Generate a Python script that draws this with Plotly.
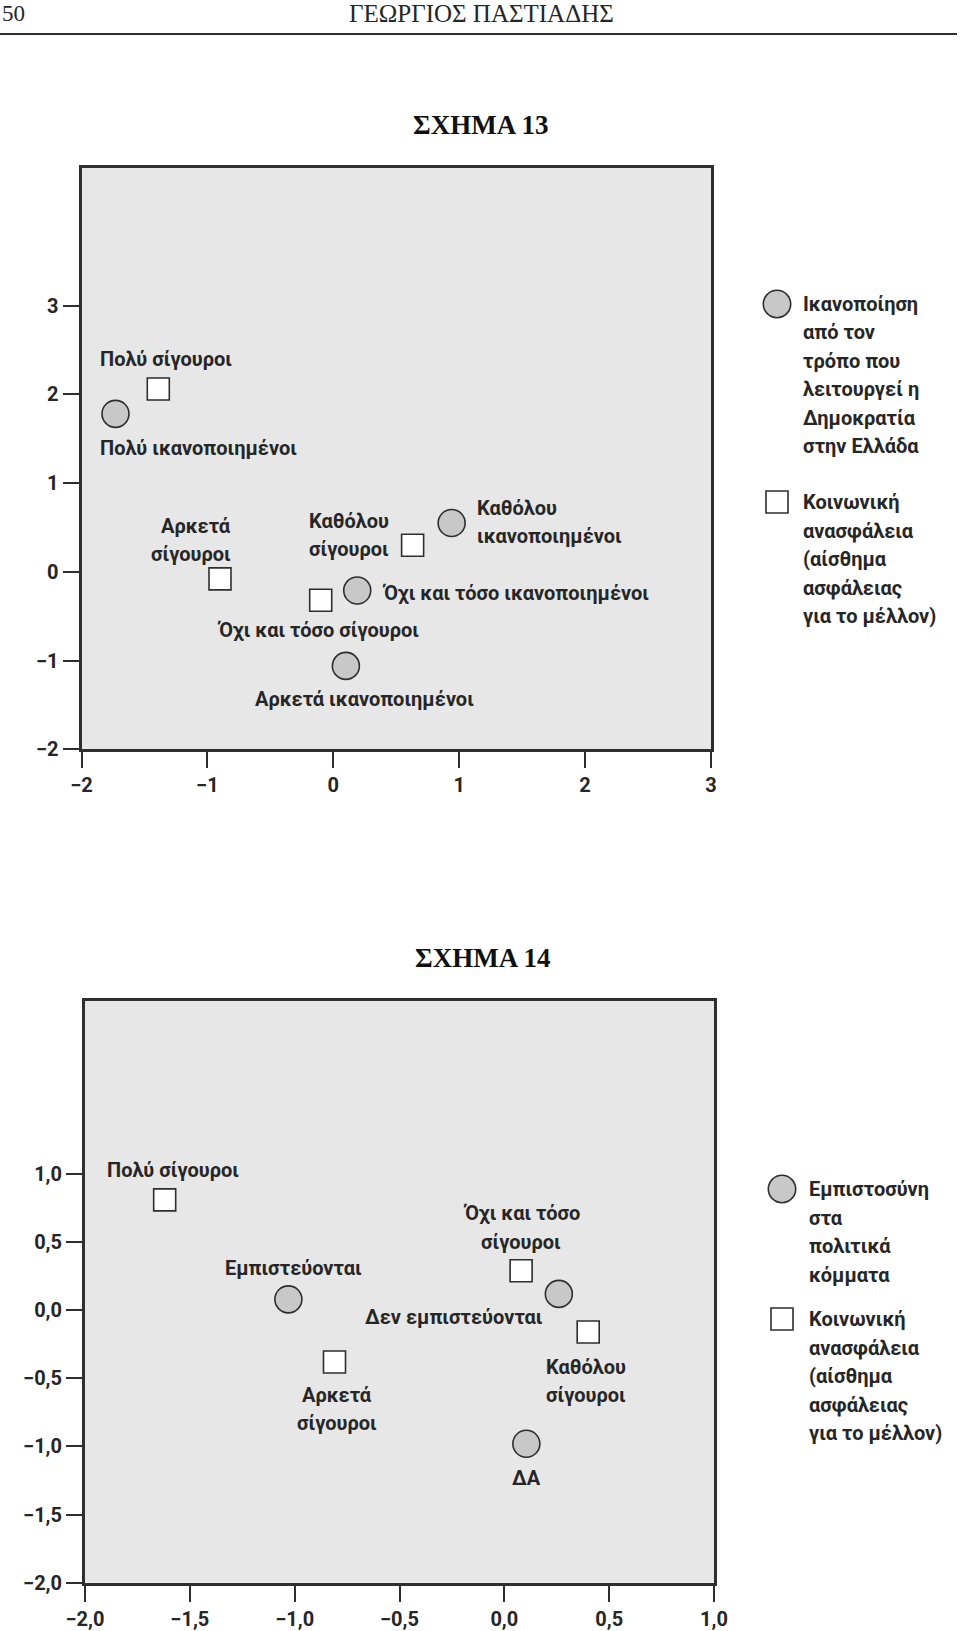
import plotly.graph_objects as go

# ΣΧΗΜΑ 13 - ικανοποίηση από τη Δημοκρατία (κύκλοι) και κοινωνική ανασφάλεια (τετράγωνα)
sat13_labels = ["Πολύ ικανοποιημένοι", "Καθόλου<br>ικανοποιημένοι",
                "Όχι και τόσο ικανοποιημένοι", "Αρκετά ικανοποιημένοι"]
sat13_x = [-1.73, 0.94, 0.19, 0.10]
sat13_y = [1.78, 0.55, -0.21, -1.06]

sec13_labels = ["Πολύ σίγουροι", "Αρκετά<br>σίγουροι",
                "Όχι και τόσο σίγουροι", "Καθόλου<br>σίγουροι"]
sec13_x = [-1.39, -0.90, -0.10, 0.63]
sec13_y = [2.06, -0.08, -0.32, 0.30]

# ΣΧΗΜΑ 14 - εμπιστοσύνη στα κόμματα (κύκλοι) και κοινωνική ανασφάλεια (τετράγωνα)
trust14_labels = ["Εμπιστεύονται", "Δεν εμπιστεύονται", "ΔΑ"]
trust14_x = [-1.03, 0.26, 0.105]
trust14_y = [0.08, 0.12, -0.98]

sec14_labels = ["Πολύ σίγουροι", "Αρκετά<br>σίγουροι",
                "Όχι και τόσο<br>σίγουροι", "Καθόλου<br>σίγουροι"]
sec14_x = [-1.62, -0.81, 0.08, 0.40]
sec14_y = [0.81, -0.38, 0.29, -0.16]

# άξονες
ticks13 = [-2, -1, 0, 1, 2, 3]
ticktext13 = ["\u22122", "\u22121", "0", "1", "2", "3"]
ticks14_x = [-2.0, -1.5, -1.0, -0.5, 0.0, 0.5, 1.0]
ticktext14_x = ["\u22122,0", "\u22121,5", "\u22121,0", "\u22120,5", "0,0", "0,5", "1,0"]
ticks14_y = [-2.0, -1.5, -1.0, -0.5, 0.0, 0.5, 1.0]
ticktext14_y = ["\u22122,0", "\u22121,5", "\u22121,0", "\u22120,5", "0,0", "0,5", "1,0"]

legend13 = ["Ικανοποίηση<br>από τον<br>τρόπο που<br>λειτουργεί η<br>Δημοκρατία<br>στην Ελλάδα",
            "Κοινωνική<br>ανασφάλεια<br>(αίσθημα<br>ασφάλειας<br>για το μέλλον)"]
legend14 = ["Εμπιστοσύνη<br>στα<br>πολιτικά<br>κόμματα",
            "Κοινωνική<br>ανασφάλεια<br>(αίσθημα<br>ασφάλειας<br>για το μέλλον)"]

W, H = 960, 1631
FONT = "Roboto, Liberation Sans, sans-serif"
SERIF = "Liberation Serif, Times New Roman, serif"
TXT = "#262626"
LINE = "#2e2e2e"
BG = "#e7e7e7"
GREY = "#c8c8c8"
LBL = dict(family=FONT, size=20, color=TXT, weight="bold")
PITCH = 28.5  # απόσταση γραμμών κειμένου


def px(x):
    return x / W


def py(y):
    return 1 - y / H


# θέση ετικέτας σε σχέση με το σημείο: (xshift, yshift, xanchor)
off13 = {
    "Πολύ ικανοποιημένοι": (-17, -34, "left"),
    "Καθόλου<br>ικανοποιημένοι": (23, 1, "left"),
    "Όχι και τόσο ικανοποιημένοι": (23, -3, "left"),
    "Αρκετά ικανοποιημένοι": (19, -33, "center"),
    "Πολύ σίγουροι": (-60, 30, "left"),
    "Αρκετά<br>σίγουροι": (13, 39, "right"),
    "Όχι και τόσο σίγουροι": (-3, -30, "center"),
    "Καθόλου<br>σίγουροι": (-22, 10, "right"),
}
off14 = {
    "Εμπιστεύονται": (5, 31, "center"),
    "Δεν εμπιστεύονται": (-14, -23, "right"),
    "ΔΑ": (0, -34, "center"),
    "Πολύ σίγουροι": (-60, 30, "left"),
    "Αρκετά<br>σίγουροι": (2, -47, "center"),
    "Όχι και τόσο<br>σίγουροι": (0, 43, "center"),
    "Καθόλου<br>σίγουροι": (-2, -49, "center"),
}

circle_marker = dict(symbol="circle", size=27, color=GREY, line=dict(color=LINE, width=1.6))
square_marker = dict(symbol="square", size=22, color="white", line=dict(color=LINE, width=1.6))

fig = go.Figure()
fig.add_trace(go.Scatter(x=sat13_x, y=sat13_y, mode="markers", marker=circle_marker,
                         xaxis="x", yaxis="y", showlegend=False, hoverinfo="skip"))
fig.add_trace(go.Scatter(x=sec13_x, y=sec13_y, mode="markers", marker=square_marker,
                         xaxis="x", yaxis="y", showlegend=False, hoverinfo="skip"))
fig.add_trace(go.Scatter(x=trust14_x, y=trust14_y, mode="markers", marker=circle_marker,
                         xaxis="x2", yaxis="y2", showlegend=False, hoverinfo="skip"))
fig.add_trace(go.Scatter(x=sec14_x, y=sec14_y, mode="markers", marker=square_marker,
                         xaxis="x2", yaxis="y2", showlegend=False, hoverinfo="skip"))

annotations = []


def put_lines(text, x, y, xref, yref, dx, dy, anchor):
    # κάθε γραμμή χωριστά, για να ταιριάζει η απόσταση γραμμών
    lines = text.split("<br>")
    n = len(lines)
    for i, line in enumerate(lines):
        off = (i - (n - 1) / 2) * PITCH
        annotations.append(dict(
            x=x, y=y, xref=xref, yref=yref, text=line, showarrow=False,
            xshift=dx, yshift=dy - off, xanchor=anchor, yanchor="middle",
            align=anchor, font=LBL))


def point_labels(labels, xs, ys, offsets, xref, yref):
    for lab, x, y in zip(labels, xs, ys):
        dx, dy, anchor = offsets[lab]
        put_lines(lab, x, y, xref, yref, dx, dy, anchor)


point_labels(sat13_labels, sat13_x, sat13_y, off13, "x", "y")
point_labels(sec13_labels, sec13_x, sec13_y, off13, "x", "y")
point_labels(trust14_labels, trust14_x, trust14_y, off14, "x2", "y2")
point_labels(sec14_labels, sec14_x, sec14_y, off14, "x2", "y2")

# κεφαλίδα σελίδας και τίτλοι
annotations += [
    dict(x=px(0), y=py(14), xref="paper", yref="paper", text="50", showarrow=False,
         xanchor="left", yanchor="middle", font=dict(family=SERIF, size=23, color=TXT)),
    dict(x=px(481), y=py(14), xref="paper", yref="paper", text="ΓΕΩΡΓΙΟΣ ΠΑΣΤΙΑΔΗΣ",
         showarrow=False, xanchor="center", yanchor="middle",
         font=dict(family=SERIF, size=25, color=TXT)),
    dict(x=px(480), y=py(125), xref="paper", yref="paper", text="<b>ΣΧΗΜΑ 13</b>",
         showarrow=False, xanchor="center", yanchor="middle",
         font=dict(family=SERIF, size=27, color="#111")),
    dict(x=px(482), y=py(958), xref="paper", yref="paper", text="<b>ΣΧΗΜΑ 14</b>",
         showarrow=False, xanchor="center", yanchor="middle",
         font=dict(family=SERIF, size=27, color="#111")),
]

shapes = [dict(type="line", xref="paper", yref="paper", x0=px(0), x1=px(957),
               y0=py(34), y1=py(34), line=dict(color=LINE, width=2))]


def legend_block(texts, cx, cy_circle, cy_square, tx):
    r, h = 13.7, 11
    shapes.append(dict(type="circle", xref="paper", yref="paper",
                       x0=px(cx - r), x1=px(cx + r), y0=py(cy_circle + r), y1=py(cy_circle - r),
                       fillcolor=GREY, line=dict(color=LINE, width=1.6)))
    shapes.append(dict(type="rect", xref="paper", yref="paper",
                       x0=px(cx - h), x1=px(cx + h), y0=py(cy_square + h), y1=py(cy_square - h),
                       fillcolor="white", line=dict(color=LINE, width=1.6)))
    for t, first in zip(texts, [cy_circle, cy_square]):
        n = len(t.split("<br>"))
        mid = first + (n - 1) / 2 * PITCH
        put_lines(t, px(tx), py(mid), "paper", "paper", 0, 0, "left")


legend_block(legend13, 777, 304, 502, 801)
legend_block(legend14, 782, 1189, 1319, 807)

axis_common = dict(showgrid=False, zeroline=False, showline=True, mirror=True,
                   linecolor=LINE, linewidth=3, ticks="outside", ticklen=16, tickwidth=2,
                   tickcolor=LINE, tickfont=LBL, automargin=False, fixedrange=True)

fig.update_layout(
    width=W, height=H,
    margin=dict(l=0, r=0, t=0, b=0, autoexpand=False),
    paper_bgcolor="white",
    plot_bgcolor=BG,
    showlegend=False,
    xaxis=dict(domain=[px(81.5), px(711)], range=[-2, 3], anchor="y",
               tickvals=ticks13, ticktext=ticktext13, **axis_common),
    yaxis=dict(domain=[py(749.3), py(168)], range=[-2, 4.55], anchor="x",
               tickvals=ticks13, ticktext=ticktext13, **axis_common),
    xaxis2=dict(domain=[px(85), px(714)], range=[-2, 1], anchor="y2",
                tickvals=ticks14_x, ticktext=ticktext14_x, **axis_common),
    yaxis2=dict(domain=[py(1582.7), py(1001)], range=[-2, 2.27], anchor="x2",
                tickvals=ticks14_y, ticktext=ticktext14_y, **axis_common),
    annotations=annotations,
    shapes=shapes,
)

# η σελίδα δεν πρέπει να έχει περιθώριο γύρω από το γράφημα
fig.write_html("out.html", config={"displayModeBar": False},
               post_script="document.body.style.margin='0';")
